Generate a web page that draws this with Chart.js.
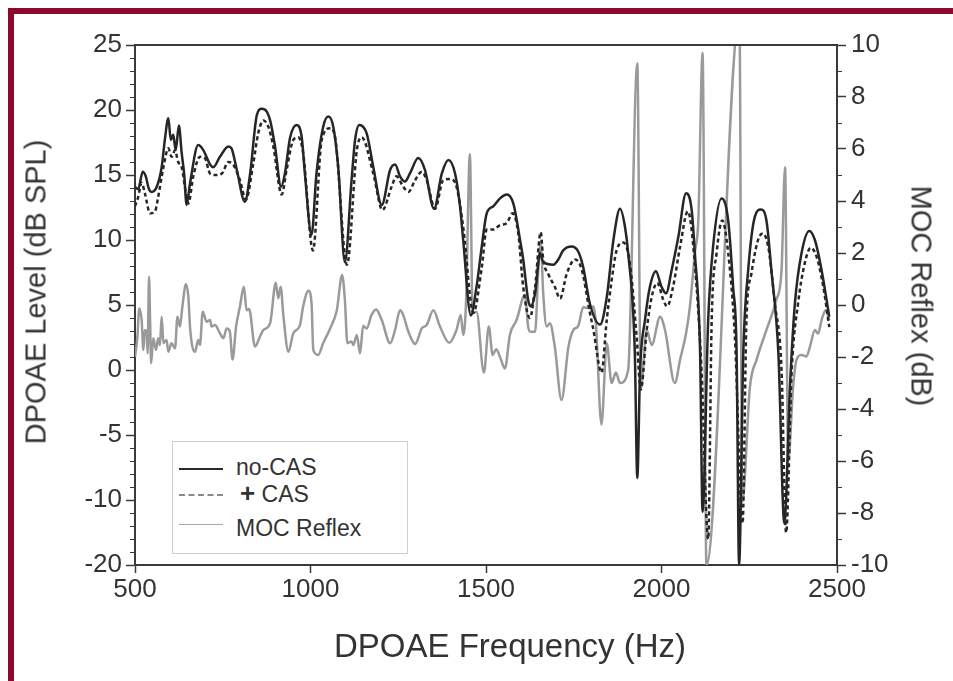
<!DOCTYPE html>
<html>
<head>
<meta charset="utf-8">
<title>DPOAE level and MOC reflex</title>
<script src="https://cdn.jsdelivr.net/npm/chart.js@4.4.1/dist/chart.umd.min.js"></script>
<style>
  html, body { margin: 0; padding: 0; background: #fff; }
  #wrap { position: relative; width: 953px; height: 681px; overflow: hidden; font-family: "Liberation Sans", Arial, sans-serif; color: #333; }
  #frame {
    position: absolute; left: 8px; top: 8px; width: 960px; height: 690px;
    border-top: 6px solid #8a0a2c; border-left: 6px solid #8a0a2c;
  }
  #chart { position: absolute; left: 0; top: 0; }
  .axis-title { position: absolute; white-space: nowrap; line-height: 1; transform-origin: center; }
  #xTitle { left: 510px; top: 645px; font-size: 33px; transform: translate(-50%, -50%); }
  #yTitle { left: 36px; top: 292px; font-size: 29px; transform: translate(-50%, -50%) rotate(-90deg); }
  #y2Title { left: 921px; top: 296px; font-size: 29px; transform: translate(-50%, -50%) rotate(90deg); }
  #legend {
    position: absolute; left: 172px; top: 441px; width: 234px; height: 111px;
    border: 1px solid #cfcfcf; background: #fff; font-size: 23px;
  }
  .sample { position: absolute; left: 6px; width: 44px; height: 0; }
  .label { position: absolute; left: 63px; line-height: 26px; white-space: nowrap; }
</style>
</head>
<body>
<div id="wrap">
  <div id="frame"></div>
  <canvas id="chart" width="953" height="681"></canvas>
  <div class="axis-title" id="xTitle">DPOAE Frequency (Hz)</div>
  <div class="axis-title" id="yTitle">DPOAE Level (dB SPL)</div>
  <div class="axis-title" id="y2Title">MOC Reflex (dB)</div>
  <div id="legend">
    <div class="sample" style="top:26px;border-top:2.5px solid #2a2a2a;"></div>
    <div class="label" style="top:12px;">no-CAS</div>
    <div class="sample" style="top:52px;border-top:2px dashed #8a8a8a;"></div>
    <div class="label" style="top:38px;left:67px;"><b style="font-size:26px;">+</b>&nbsp;CAS</div>
    <div class="sample" style="top:82px;border-top:1.5px solid #a8a8a8;"></div>
    <div class="label" style="top:73px;">MOC Reflex</div>
  </div>
</div>
<script>
// DPOAE level without contralateral noise (dB SPL)
const noCasHz = [500, 509, 522, 531, 539, 547, 562, 576, 585, 595,
  602, 609, 616, 625, 633, 640, 647, 657, 680, 695,
  714, 723, 742, 766, 775, 790, 813, 828, 847, 861,
  875, 885, 899, 916, 927, 942, 961, 975, 984, 1003,
  1017, 1036, 1051, 1065, 1079, 1098, 1117, 1127, 1139, 1160,
  1179, 1203, 1227, 1241, 1255, 1269, 1283, 1307, 1326, 1352,
  1374, 1393, 1412, 1426, 1435, 1457, 1473, 1488, 1502, 1521,
  1540, 1559, 1578, 1597, 1606, 1620, 1627, 1640, 1654, 1663,
  1692, 1706, 1720, 1744, 1763, 1777, 1796, 1825, 1844, 1863,
  1882, 1896, 1905, 1924, 1931, 1939, 1953, 1967, 1984, 2000,
  2013, 2029, 2048, 2070, 2086, 2095, 2110, 2117, 2133, 2147,
  2171, 2190, 2204, 2214, 2221, 2233, 2247, 2266, 2283, 2299,
  2313, 2333, 2350, 2366, 2380, 2399, 2421, 2437, 2456, 2478];
const noCasDb = [14.1, 13.9, 15.25, 14.87, 13.97, 13.7, 14.1, 15.6, 17.7, 19.36,
  17.7, 18.1, 16.9, 18.8, 16.7, 15.1, 12.7, 14.4, 17.3, 16.9,
  15.8, 15.6, 16.4, 17.2, 17.05, 15.4, 12.95, 15.1, 19.6, 20.1,
  19.9, 19.2, 17.2, 14.1, 15.1, 17.9, 18.85, 17.9, 15.1, 10.4,
  15.1, 18.7, 19.5, 18.7, 15.6, 8.3, 14.6, 17.7, 18.85, 18.2,
  15.6, 12.7, 15.4, 15.8, 14.9, 14.5, 15.1, 16.3, 15.4, 12.4,
  15.1, 16.15, 15.1, 12.6, 10.0, 4.2, 6.4, 9.5, 12.05, 12.6,
  13.2, 13.5, 12.8, 10.0, 8.5, 5.4, 4.9, 5.9, 9.0, 8.3,
  8.1, 8.5, 9.2, 9.5, 9.1, 7.9, 5.1, 3.5, 5.6, 10.0,
  12.4, 11.0, 9.0, 1.3, -8.3, 0.0, 3.85, 6.4, 7.6, 6.4,
  5.9, 7.7, 10.25, 13.6, 12.3, 9.0, 1.3, -10.9, 3.85, 9.5,
  13.2, 11.5, 6.4, 1.3, -15, 1.3, 7.7, 11.8, 12.35, 11.5,
  7.7, 1.3, -11.8, -1.3, 5.1, 9.0, 10.7, 10.0, 7.7, 4.1];

// DPOAE level with contralateral acoustic stimulation (dB SPL)
const casHz = [500, 509, 519, 528, 543, 557, 566, 581, 595, 604,
  614, 623, 633, 645, 652, 666, 685, 699, 714, 728,
  747, 766, 780, 799, 816, 837, 851, 866, 880, 894,
  918, 932, 951, 965, 979, 1007, 1032, 1056, 1070, 1104,
  1132, 1146, 1179, 1205, 1231, 1245, 1264, 1279, 1298, 1317,
  1331, 1355, 1378, 1397, 1416, 1435, 1464, 1488, 1502, 1521,
  1540, 1559, 1576, 1592, 1606, 1625, 1640, 1656, 1663, 1677,
  1696, 1711, 1730, 1754, 1773, 1796, 1806, 1829, 1844, 1858,
  1872, 1891, 1910, 1929, 1941, 1958, 1972, 1988, 2005, 2016,
  2033, 2053, 2075, 2100, 2114, 2133, 2143, 2157, 2173, 2190,
  2209, 2231, 2242, 2256, 2275, 2288, 2304, 2323, 2342, 2355,
  2371, 2389, 2408, 2425, 2442, 2461, 2478];
const casDb = [12.6, 13.3, 14.4, 13.6, 12.05, 12.2, 13.3, 15.6, 17.05, 16.4,
  16.9, 16.0, 15.6, 13.6, 12.8, 14.9, 16.4, 16.3, 15.1, 15.0,
  15.1, 16.0, 15.8, 14.6, 13.1, 15.9, 18.2, 19.2, 18.7, 17.2,
  13.5, 15.4, 17.7, 17.9, 16.7, 9.2, 17.7, 18.6, 17.9, 8.1,
  16.9, 17.9, 15.1, 12.3, 14.1, 14.9, 14.1, 13.7, 14.6, 15.25,
  14.6, 12.4, 14.6, 14.7, 14.1, 11.0, 4.4, 7.9, 10.8, 10.8,
  11.15, 11.3, 12.05, 10.5, 6.4, 4.0, 6.4, 10.6, 8.5, 7.4,
  6.4, 5.5, 7.4, 8.5, 7.7, 4.4, 3.1, -0.2, 3.85, 6.9,
  9.2, 9.8, 8.2, 2.6, -1.5, 3.1, 5.6, 6.7, 5.4, 4.9,
  6.4, 9.5, 12.2, 6.4, 0.0, -13, 3.85, 9.0, 11.5, 9.0,
  2.6, -11.8, 3.85, 7.4, 10.0, 10.5, 9.5, 5.1, 0.0, -12.5,
  0.0, 5.1, 8.2, 9.4, 8.7, 6.4, 3.3];

// MOC reflex (dB), right axis
const mocHz = [500, 507, 512, 519, 524, 528, 533, 536, 540, 543,
  546, 552, 560, 566, 571, 576, 581, 590, 595, 604,
  614, 621, 628, 635, 645, 652, 657, 671, 680, 685,
  693, 704, 714, 718, 728, 742, 752, 761, 770, 778,
  788, 799, 810, 818, 825, 842, 856, 866, 885, 901,
  908, 915, 923, 937, 951, 970, 979, 994, 1003, 1008,
  1022, 1036, 1056, 1075, 1090, 1098, 1105, 1117, 1122, 1132,
  1141, 1150, 1160, 1174, 1187, 1203, 1227, 1241, 1255, 1264,
  1279, 1298, 1317, 1331, 1350, 1369, 1395, 1416, 1428, 1435,
  1443, 1454, 1462, 1473, 1494, 1508, 1519, 1529, 1540, 1554,
  1568, 1587, 1611, 1620, 1627, 1640, 1649, 1656, 1663, 1673,
  1682, 1696, 1715, 1735, 1749, 1763, 1777, 1792, 1806, 1813,
  1829, 1844, 1858, 1870, 1882, 1905, 1931, 1941, 1958, 1972,
  1996, 2010, 2038, 2053, 2070, 2081, 2095, 2105, 2117, 2128,
  2222, 2230, 2252, 2271, 2299, 2327, 2342, 2352, 2361, 2375,
  2385, 2399, 2413, 2423, 2437, 2446, 2456, 2468, 2478];
const mocDb = [-2.0, -1.2, -0.13, -0.58, -1.73, -0.96, -1.0, -1.86, 1.09, -0.58,
  -2.24, -1.28, -1.73, -1.28, -1.54, -0.45, -1.47, -1.35, -1.8, -1.47,
  -1.67, -0.45, -0.83, -0.06, 0.8, 0.32, -0.9, -1.8, -1.35, -1.54,
  -0.26, -0.64, -0.58, -0.83, -0.77, -1.09, -1.28, -0.9, -1.0, -2.1,
  -0.83, -0.06, 0.7, -0.2, -0.15, -1.6, -1.22, -0.96, -0.7, 0.86,
  0.26, 0.7, -0.45, -1.8, -1.09, -0.77, -0.06, 0.55, 0.06, -1.73,
  -1.92, -1.47, -0.9, -0.2, 1.15, 0.19, -1.47, -1.4, -1.54, -1.15,
  -1.86, -0.8, -0.9, -0.38, -0.17, -0.58, -1.47, -0.96, -0.2, -0.38,
  -1.03, -1.5, -0.9, -0.77, -0.2, -0.83, -1.45, -0.96, -0.38, -1.15,
  0.06, 5.8, -0.32, -0.26, -2.6, -0.83, -1.92, -1.7, -2.0, -2.44,
  -1.15, -0.58, 0.38, -0.83, -1.03, -1.03, 1.35, 2.44, 0.45, -0.83,
  -0.7, -1.6, -3.65, -1.6, -0.96, -0.8, -0.09, -0.12, -0.06, -0.7,
  -4.6, -1.47, -3.0, -2.6, -3.0, -2.5, 9.3, -3.2, -0.96, -1.54,
  -0.45, -0.96, -3.0, -2.1, -1.09, -0.06, 2.0, 3.3, 9.7, -10,
  11, -7.6, -3.14, -2.1, -0.96, 0.19, 1.35, 5.3, -6.0, -3.14,
  -2.1, -1.92, -1.98, -1.6, -0.96, -1.1, -0.58, -0.2, -0.58];

// axis ticks
const freqTicks = [500, 1000, 1500, 2000, 2500];
const levelTicks = [-15, -10, -5, 0, 5, 10, 15, 20, 25];
const levelTickLabels = ['-20', '-10', '-5', '0', '5', '10', '15', '20', '25'];
const mocTicks = [-10, -8, -6, -4, -2, 0, 2, 4, 6, 8, 10];

function toPoints(xs, ys) {
  return xs.map((x, i) => ({ x: x, y: ys[i] }));
}

const FONT = '"Liberation Sans", Arial, sans-serif';
const TEXT = '#333';
const AXIS = '#3a3a3a';

// top frame line + minor ticks on both y axes
const frameTicks = {
  id: 'frameTicks',
  afterDraw(chart) {
    const ctx = chart.ctx;
    const a = chart.chartArea;
    const yl = chart.scales.y;
    const yr = chart.scales.y2;
    ctx.save();
    ctx.strokeStyle = AXIS;
    ctx.lineWidth = 2;
    ctx.beginPath();
    ctx.moveTo(a.left - 1, a.top);
    ctx.lineTo(a.right + 1, a.top);
    ctx.stroke();

    ctx.lineWidth = 1.2;
    ctx.beginPath();
    for (let v = yl.min; v <= yl.max; v++) {
      if (v % 5 === 0) continue;
      const y = Math.round(yl.getPixelForValue(v)) + 0.5;
      ctx.moveTo(a.left, y);
      ctx.lineTo(a.left - 5, y);
    }
    for (let v = yr.min; v <= yr.max; v++) {
      if (v % 2 === 0) continue;
      const y = Math.round(yr.getPixelForValue(v)) + 0.5;
      ctx.moveTo(a.right, y);
      ctx.lineTo(a.right + 5, y);
    }
    ctx.stroke();
    ctx.restore();
  }
};

const ctx = document.getElementById('chart').getContext('2d');
new Chart(ctx, {
  type: 'line',
  data: {
    datasets: [{
      label: 'no-CAS',
      data: toPoints(noCasHz, noCasDb),
      borderColor: '#262626',
      borderWidth: 2.5,
      yAxisID: 'y'
    }, {
      label: '+ CAS',
      data: toPoints(casHz, casDb),
      borderColor: '#262626',
      borderWidth: 2.5,
      borderDash: [4, 3],
      yAxisID: 'y'
    }, {
      label: 'MOC Reflex',
      data: toPoints(mocHz, mocDb),
      borderColor: '#9a9a9a',
      borderWidth: 2.5,
      yAxisID: 'y2'
    }]
  },
  options: {
    responsive: false,
    animation: false,
    events: [],
    cubicInterpolationMode: 'monotone',
    elements: { point: { radius: 0 } },
    layout: { padding: { top: 45, left: 0, right: 0, bottom: 0 } },
    plugins: {
      legend: { display: false },
      tooltip: { enabled: false }
    },
    scales: {
      x: {
        type: 'linear',
        min: 500,
        max: 2500,
        afterBuildTicks: s => { s.ticks = freqTicks.map(v => ({ value: v })); },
        afterFit: s => { s.height = 116; },
        ticks: {
          callback: v => String(v),
          font: { family: FONT, size: 26 },
          color: TEXT,
          padding: 1,
          maxRotation: 0,
          autoSkip: false
        },
        grid: { drawOnChartArea: false, tickLength: 8, tickColor: AXIS, tickWidth: 1.5 },
        border: { color: AXIS, width: 2 }
      },
      y: {
        position: 'left',
        min: -15,
        max: 25,
        afterBuildTicks: s => { s.ticks = levelTicks.map(v => ({ value: v })); },
        afterFit: s => { s.width = 135; },
        ticks: {
          callback: v => levelTickLabels[levelTicks.indexOf(v)],
          font: { family: FONT, size: 26 },
          color: TEXT,
          padding: 4
        },
        grid: { drawOnChartArea: false, tickLength: 9, tickColor: AXIS, tickWidth: 1.5 },
        border: { color: AXIS, width: 2 }
      },
      y2: {
        position: 'right',
        min: -10,
        max: 10,
        afterBuildTicks: s => { s.ticks = mocTicks.map(v => ({ value: v })); },
        afterFit: s => { s.width = 116; },
        ticks: {
          callback: v => String(v),
          font: { family: FONT, size: 26 },
          color: TEXT,
          padding: 5
        },
        grid: { drawOnChartArea: false, tickLength: 9, tickColor: AXIS, tickWidth: 1.5 },
        border: { color: AXIS, width: 2 }
      }
    }
  },
  plugins: [frameTicks]
});
</script>
</body>
</html>
